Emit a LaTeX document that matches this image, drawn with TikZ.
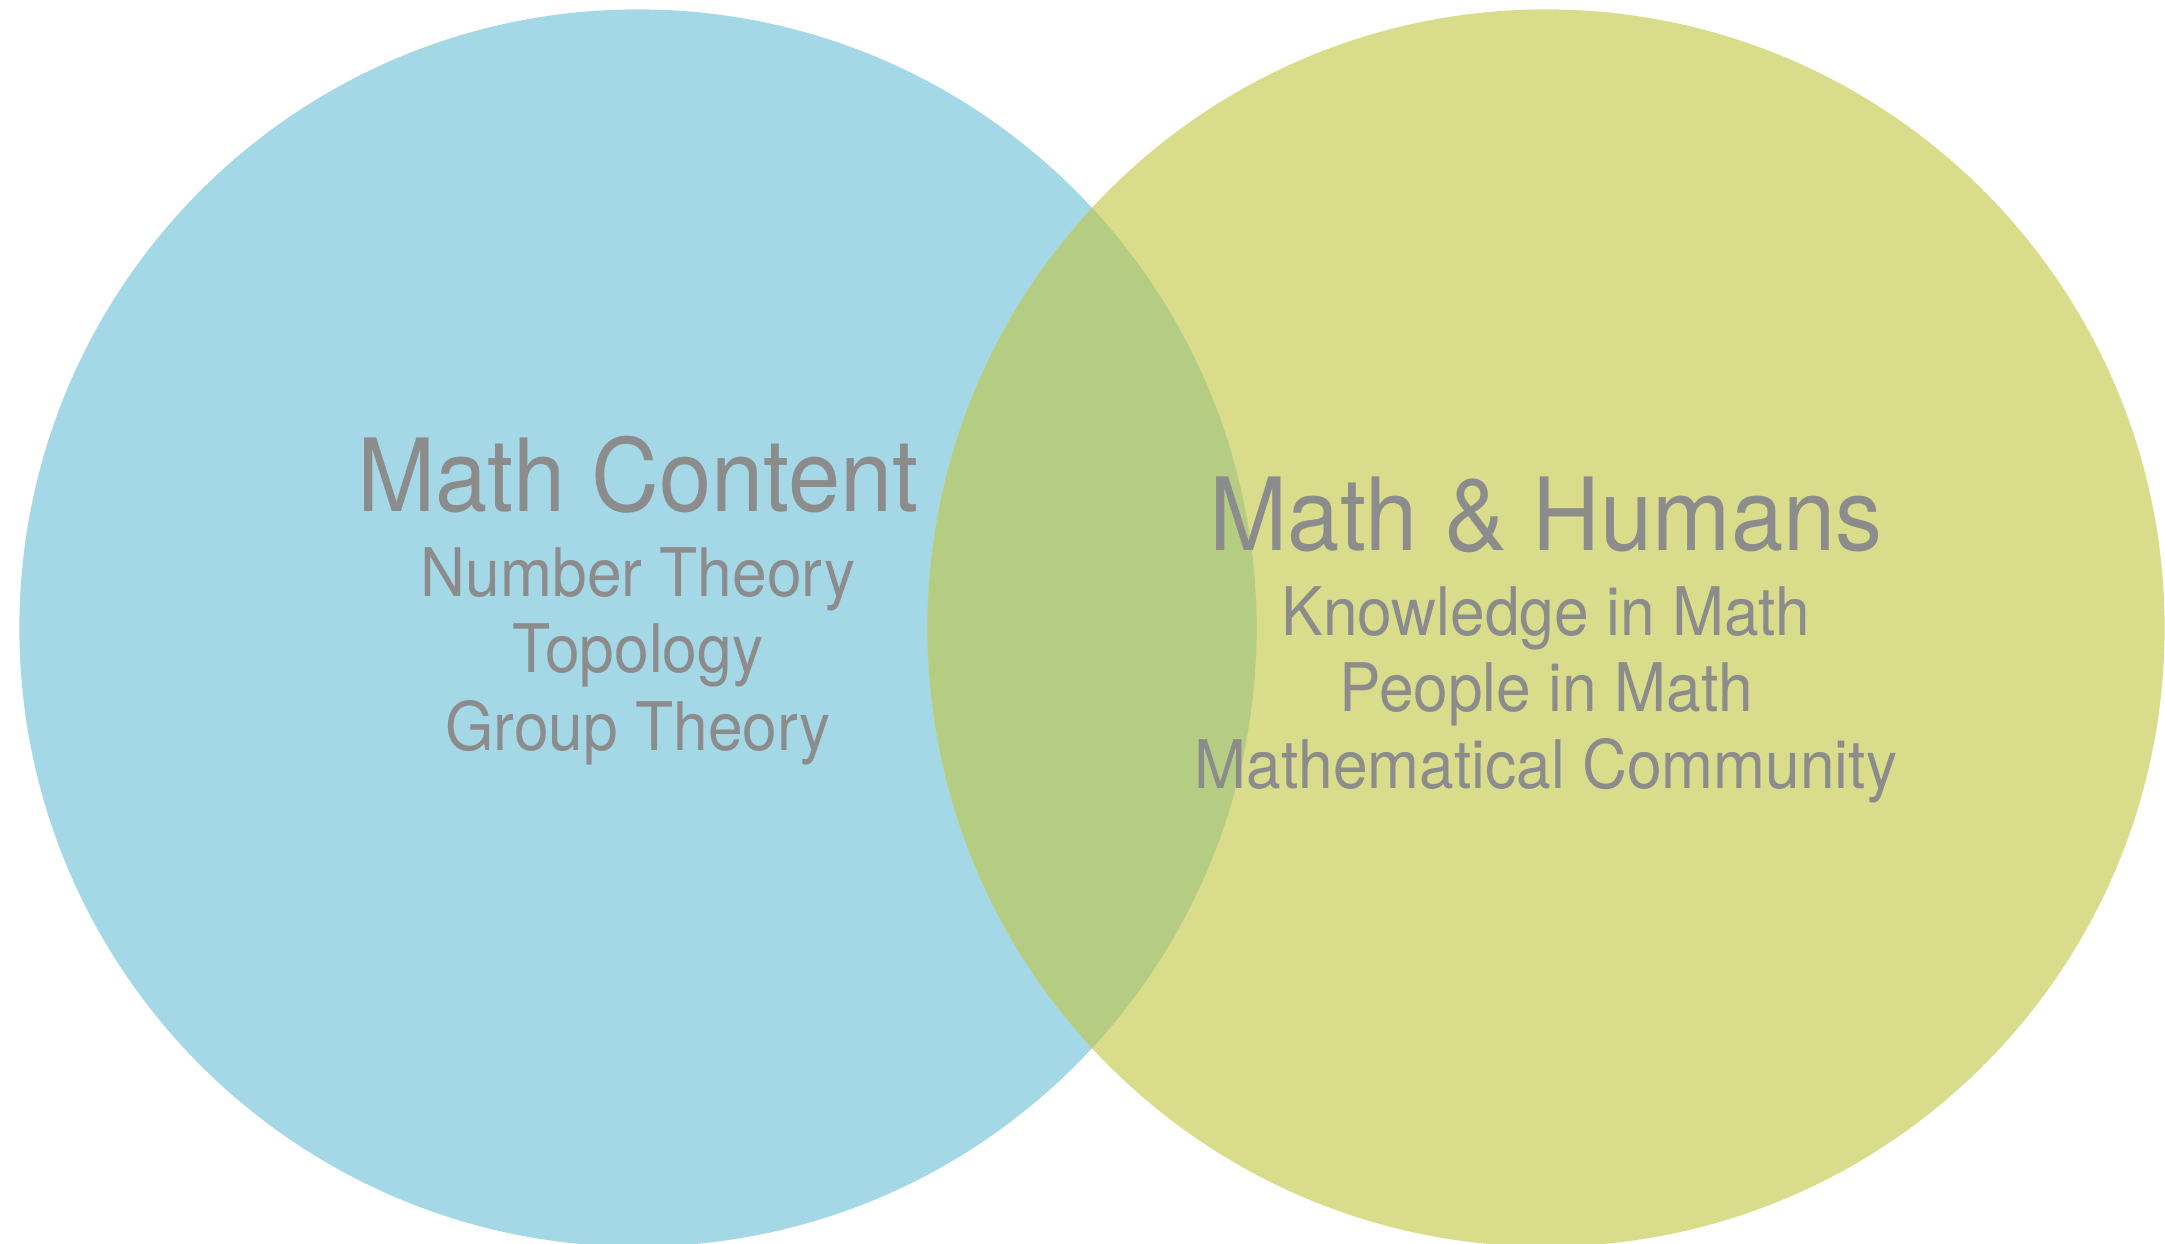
\documentclass[tikz,border=0pt]{standalone}
\usepackage{fontspec}
\setmainfont{TeX Gyre Heros}[FakeStretch=0.93]
\definecolor{cblue}{RGB}{164,216,231}
\definecolor{cyell}{RGB}{217,221,139}
\definecolor{cover}{RGB}{181,205,130}
\definecolor{ctext}{RGB}{140,140,140}
\tikzset{
  title/.style={anchor=base, text=ctext, font=\fontsize{101}{120}\selectfont, inner sep=0pt},
  item/.style={anchor=base, text=ctext, font=\fontsize{67}{80}\selectfont, inner sep=0pt}
}
\begin{document}
\begin{tikzpicture}[x=1pt,y=-1pt]
\useasboundingbox (0,0) rectangle (2165,1244);
\clip (0,0) rectangle (2165,1244);
\coordinate (L) at (638,628);
\coordinate (R) at (1546,628);
\fill[cblue] (L) circle (618.6);
\fill[cyell] (R) circle (618.6);
\begin{scope}
\clip (L) circle (618.6);
\fill[cover] (R) circle (618.6);
\end{scope}
\node[title] (mc) at (638,511) {Math Content};
\node[item] (nt) at (638,596) {Number Theory};
\node[item] (tp) at (638,672) {Topology};
\node[item] (gt) at (638,750) {Group Theory};
\node[title] (mh) at (1546,550) {Math \& Humans};
\node[item] (km) at (1546,635) {Knowledge in Math};
\node[item] (pm) at (1546,711) {People in Math};
\node[item] (cm) at (1546,788) {Mathematical Community};
\end{tikzpicture}
\end{document}
